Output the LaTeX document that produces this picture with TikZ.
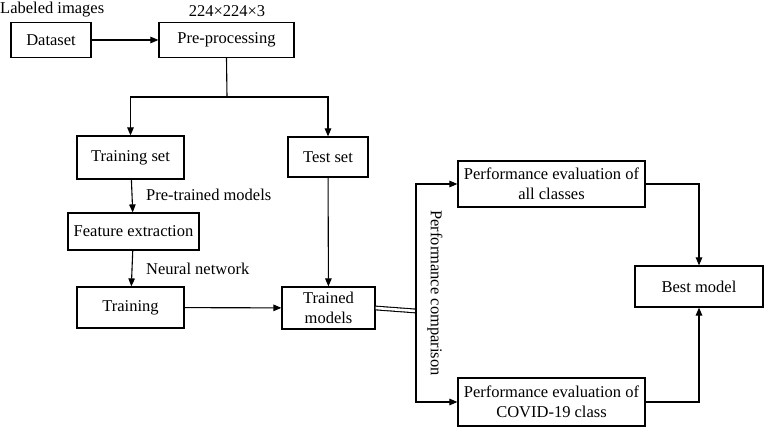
\documentclass[tikz,border=0pt]{standalone}
\usepackage{fontspec}
\setmainfont{Liberation Serif}
\usepackage{tikz}
\usetikzlibrary{arrows.meta,positioning,calc}
\tikzset{
  bloco/.style={rectangle, draw=black, line width=1.2pt, fill=white,
                minimum height=40pt, inner sep=2pt,
                align=center, font=\fontsize{16.5}{19.5}\selectfont},
  rotulo/.style={inner sep=0pt, font=\fontsize{16.5}{19.5}\selectfont},
  seta/.style={-{Triangle[length=8pt,width=6.5pt]}, line width=1.1pt},
  linha/.style={line width=1.1pt},
}
\begin{document}
\begin{tikzpicture}[x=1pt, y=-1pt]
  \useasboundingbox (0,0) rectangle (764,427);
  \node[bloco, minimum width=80pt, minimum height=35pt] (dados) at (51,40) {Dataset};
  \node[bloco, minimum width=135pt, minimum height=35pt] (preproc) at (226.5,40) {Pre-processing};
  \node[bloco, minimum width=107pt, minimum height=43pt] (treino) at (130.5,157.5) {Training set};
  \node[bloco, minimum width=80pt] (teste) at (328,157) {Test set};
  \node[bloco, minimum width=131pt, minimum height=37pt] (extracao) at (133.5,231.5) {Feature extraction};
  \node[bloco, minimum width=107pt, minimum height=41pt] (treinamento) at (130.5,307.5) {Training};
  \node[bloco, minimum width=93pt, minimum height=42pt] (treinados) at (328.5,308) {Trained\\models};
  \node[bloco, minimum width=187pt, minimum height=46pt] (avaltodas) at (551.5,184) {Performance evaluation of\\all classes};
  \node[bloco, minimum width=187pt, minimum height=48pt] (avalcovid) at (551.5,402) {Performance evaluation of\\COVID-19 class};
  \node[bloco, minimum width=128pt, minimum height=41pt] (melhor) at (699,286.5) {Best model};
  \node[rotulo, anchor=base west] (rotimg) at (0,14) {Labeled images};
  \node[rotulo, anchor=base] (rottam) at (227,17) {224×224×3};
  \node[rotulo, anchor=base west] (rotpre) at (146,201) {Pre-trained models};
  \node[rotulo, anchor=base west] (rotrede) at (146,275) {Neural network};
  \node[rotulo, rotate=-90] (rotcomp) at (435,293) {Performance comparison};
  \coordinate (ramo) at (227,97);
  \coordinate (comp) at (416,311);
  \draw[seta] (dados)--(preproc);
  \draw[linha] (preproc.south)--(ramo);
  \draw[seta] (ramo)-|(treino.north); \draw[seta] (ramo)-|(teste.north);
  \draw[seta] (treino)--(extracao); \draw[seta] (extracao)--(treinamento);
  \draw[seta] (treinamento)--(treinados); \draw[seta] (teste)--(treinados);
  \draw[linha, double, double distance=2.6pt] (treinados.east)--(comp);
  \draw[seta] (comp)|-(avaltodas.west); \draw[seta] (comp)|-(avalcovid.west);
  \draw[seta] (avaltodas.east)-|(melhor.north); \draw[seta] (avalcovid.east)-|(melhor.south);
\end{tikzpicture}
\end{document}
